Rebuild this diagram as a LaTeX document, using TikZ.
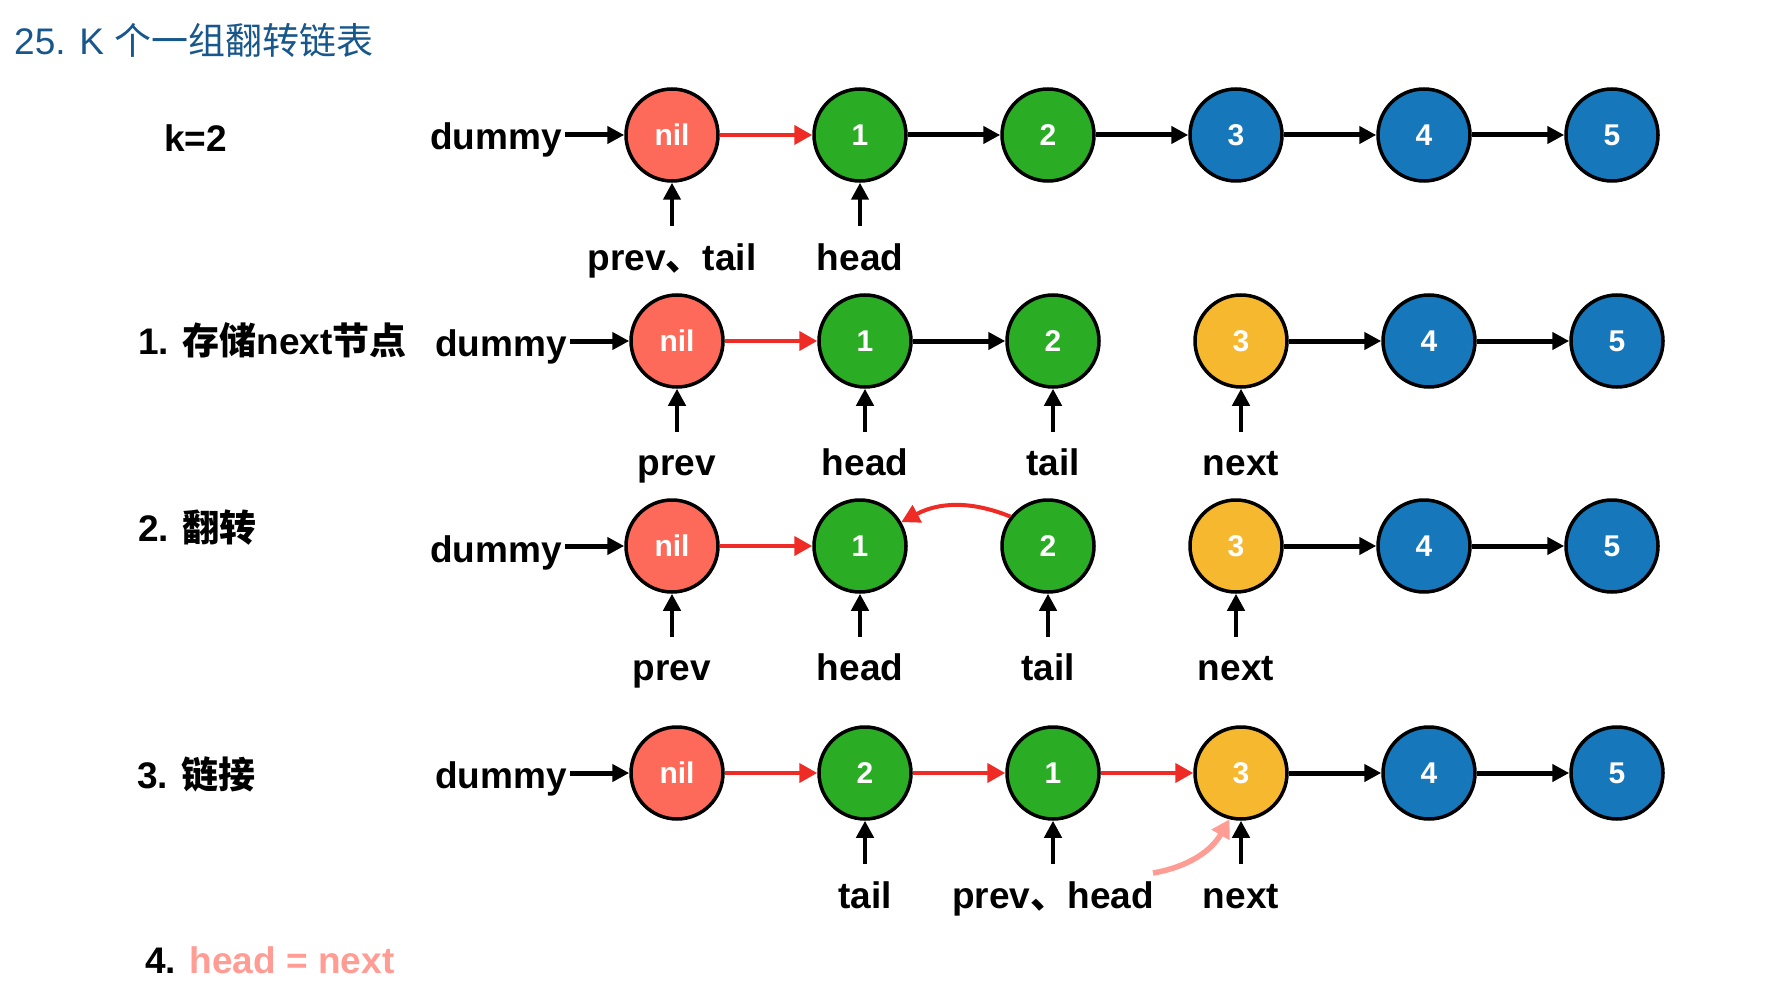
\documentclass[tikz,border=0pt]{standalone}
\usepackage{fontspec}
\setmainfont{Liberation Sans}
\newfontfamily\cjk{Noto Sans CJK SC}
\newcommand\zh[1]{{\cjk #1}}
\usetikzlibrary{arrows.meta,calc}
\definecolor{nilc}{HTML}{FE6A5A}
\definecolor{grnc}{HTML}{2AAD24}
\definecolor{bluc}{HTML}{1677BA}
\definecolor{yelc}{HTML}{F6B82F}
\definecolor{redc}{HTML}{EE2B24}
\definecolor{pinkc}{HTML}{FF9C93}
\definecolor{titc}{HTML}{17578B}
\begin{document}
\begin{tikzpicture}[x=1pt,y=-1pt,
  ln/.style={circle, draw=black, line width=3.5pt, minimum size=92pt, inner sep=0pt, text=white, font=\bfseries\fontsize{30}{31}\selectfont},
  fr/.style={ln, fill=nilc},
  fg/.style={ln, fill=grnc},
  fb/.style={ln, fill=bluc},
  fy/.style={ln, fill=yelc},
  lbl/.style={font=\bfseries\fontsize{37}{40}\selectfont, inner sep=0pt},
  dlbl/.style={lbl, anchor=base east, inner xsep=3pt},
  blk/.style={line width=5pt, -{Triangle[length=17pt,width=17pt]}},
  redarr/.style={line width=4pt, draw=redc, -{Triangle[length=18pt,width=19pt]}},
  ptr/.style={line width=4.5pt, -{Triangle[length=17pt,width=17pt]}},
  pinkarr/.style={line width=5.5pt, draw=pinkc, -{Triangle[length=18pt,width=20pt]}}
]
\useasboundingbox (0,0) rectangle (1790,1000);

% title
\node[anchor=base west, inner sep=0pt, text=titc, font=\fontsize{37}{40}\selectfont] (title) at (14,55) {25. K \zh{个一组翻转链表}};

% ---------- row 1 ----------
\node[lbl, anchor=base west] (k) at (164,152) {k=2};
\node[fr] (a0) at (672,135) {nil};
\node[fg] (a1) at (860,135) {1};
\node[fg] (a2) at (1048,135) {2};
\node[fb] (a3) at (1236,135) {3};
\node[fb] (a4) at (1424,135) {4};
\node[fb] (a5) at (1612,135) {5};
\node[dlbl] (d1) at (565,150) {dummy};
\draw[blk] (d1.east |- a0.west) -- (a0);
\draw[redarr] (a0) -- (a1);
\draw[blk] (a1) -- (a2);
\draw[blk] (a2) -- (a3);
\draw[blk] (a3) -- (a4);
\draw[blk] (a4) -- (a5);
\node[lbl, anchor=base] (pa0) at ($(a0)+(0,135)$) {prev\zh{、}tail};
\node[lbl, anchor=base] (pa1) at ($(a1)+(0,135)$) {head};
\draw[ptr] ($(a0.south)+(0,43)$) -- (a0.south);
\draw[ptr] ($(a1.south)+(0,43)$) -- (a1.south);

% ---------- row 2 ----------
\node[lbl, anchor=base west] (s1) at (138,354) {1. \zh{存储}next\zh{节点}};
\node[fr] (b0) at (677,341) {nil};
\node[fg] (b1) at (865,341) {1};
\node[fg] (b2) at (1053,341) {2};
\node[fy] (b3) at (1241,341) {3};
\node[fb] (b4) at (1429,341) {4};
\node[fb] (b5) at (1617,341) {5};
\node[dlbl] (d2) at (570,356) {dummy};
\draw[blk] (d2.east |- b0.west) -- (b0);
\draw[redarr] (b0) -- (b1);
\draw[blk] (b1) -- (b2);
\draw[blk] (b3) -- (b4);
\draw[blk] (b4) -- (b5);
\node[lbl, anchor=base] (pb0) at ($(b0)+(0,134)$) {prev};
\node[lbl, anchor=base] (pb1) at ($(b1)+(0,134)$) {head};
\node[lbl, anchor=base] (pb2) at ($(b2)+(0,134)$) {tail};
\node[lbl, anchor=base] (pb3) at ($(b3)+(0,134)$) {next};
\draw[ptr] ($(b0.south)+(0,43)$) -- (b0.south);
\draw[ptr] ($(b1.south)+(0,43)$) -- (b1.south);
\draw[ptr] ($(b2.south)+(0,43)$) -- (b2.south);
\draw[ptr] ($(b3.south)+(0,43)$) -- (b3.south);

% ---------- row 3 ----------
\node[lbl, anchor=base west] (s2) at (138,541) {2. \zh{翻转}};
\node[fr] (c0) at (672,546) {nil};
\node[fg] (c1) at (860,546) {1};
\node[fg] (c2) at (1048,546) {2};
\node[fy] (c3) at (1236,546) {3};
\node[fb] (c4) at (1424,546) {4};
\node[fb] (c5) at (1612,546) {5};
\node[dlbl] (d3) at (565,562) {dummy};
\draw[blk] (d3.east |- c0.west) -- (c0);
\draw[redarr] (c0) -- (c1);
\draw[redarr] (c2.142) to[bend right=25] (c1.30);
\draw[blk] (c3) -- (c4);
\draw[blk] (c4) -- (c5);
\node[lbl, anchor=base] (pc0) at ($(c0)+(0,134)$) {prev};
\node[lbl, anchor=base] (pc1) at ($(c1)+(0,134)$) {head};
\node[lbl, anchor=base] (pc2) at ($(c2)+(0,134)$) {tail};
\node[lbl, anchor=base] (pc3) at ($(c3)+(0,134)$) {next};
\draw[ptr] ($(c0.south)+(0,43)$) -- (c0.south);
\draw[ptr] ($(c1.south)+(0,43)$) -- (c1.south);
\draw[ptr] ($(c2.south)+(0,43)$) -- (c2.south);
\draw[ptr] ($(c3.south)+(0,43)$) -- (c3.south);

% ---------- row 4 ----------
\node[lbl, anchor=base west] (s3) at (137,788) {3. \zh{链接}};
\node[fr] (e0) at (677,773) {nil};
\node[fg] (e1) at (865,773) {2};
\node[fg] (e2) at (1053,773) {1};
\node[fy] (e3) at (1241,773) {3};
\node[fb] (e4) at (1429,773) {4};
\node[fb] (e5) at (1617,773) {5};
\node[dlbl] (d4) at (570,788) {dummy};
\draw[blk] (d4.east |- e0.west) -- (e0);
\draw[redarr] (e0) -- (e1);
\draw[redarr] (e1) -- (e2);
\draw[redarr] (e2) -- (e3);
\draw[blk] (e3) -- (e4);
\draw[blk] (e4) -- (e5);
\node[lbl, anchor=base] (pe1) at ($(e1)+(0,135)$) {tail};
\node[lbl, anchor=base] (pe2) at ($(e2)+(0,135)$) {prev\zh{、}head};
\node[lbl, anchor=base] (pe3) at ($(e3)+(0,135)$) {next};
\draw[ptr] ($(e1.south)+(0,43)$) -- (e1.south);
\draw[ptr] ($(e2.south)+(0,43)$) -- (e2.south);
\draw[ptr] ($(e3.south)+(0,43)$) -- (e3.south);
\coordinate (pk) at (1153,873);
\draw[pinkarr] (pk) to[bend right=25] (e3.256);

% ---------- step 4 ----------
\node[lbl, anchor=base west] (s4) at (145,973) {4. \textcolor{pinkc}{head = next}};
\end{tikzpicture}
\end{document}
